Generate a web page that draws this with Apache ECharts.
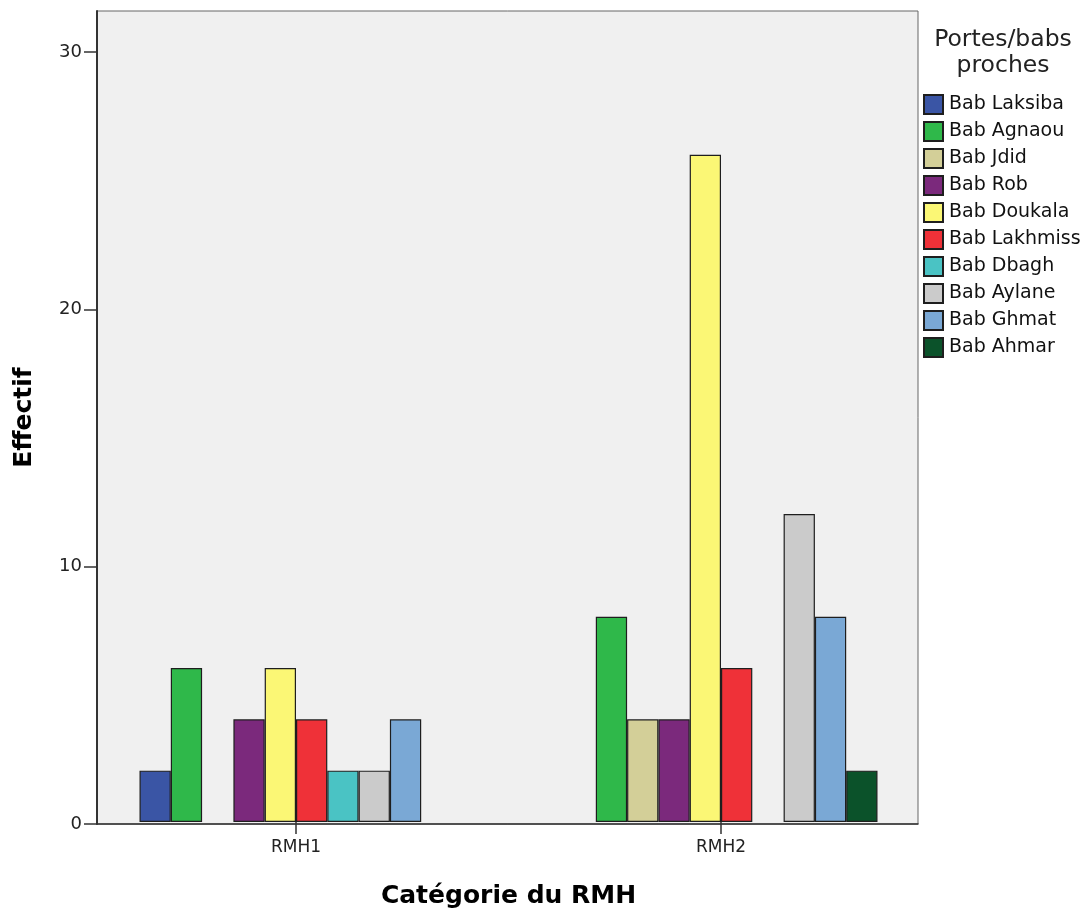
<!DOCTYPE html>
<html>
<head>
<meta charset="utf-8">
<script src="https://cdn.jsdelivr.net/npm/echarts@6/dist/echarts.min.js"></script>
<style>html,body{margin:0;padding:0;background:#fff}#c{width:1085px;height:914px}</style>
</head>
<body>
<div id="c"></div>
<script>
const categories = ['RMH1', 'RMH2'];
const seriesNames = ['Bab Laksiba','Bab Agnaou','Bab Jdid','Bab Rob','Bab Doukala','Bab Lakhmiss','Bab Dbagh','Bab Aylane','Bab Ghmat','Bab Ahmar'];
const laksiba = [2, 0];
const agnaou = [6, 8];
const jdid = [0, 4];
const rob = [4, 4];
const doukala = [6, 26];
const lakhmiss = [4, 6];
const dbagh = [2, 0];
const aylane = [2, 12];
const ghmat = [4, 8];
const ahmar = [0, 2];
const yTicks = [0, 10, 20, 30];
const colors = ['#3a55a5','#2fb84a','#d3cf98','#7b297c','#fbf775','#ef3138','#4ac3c4','#cbcbcb','#7aa8d5','#0b522a'];

const values = [laksiba, agnaou, jdid, rob, doukala, lakhmiss, dbagh, aylane, ghmat, ahmar];
const chart = echarts.init(document.getElementById('c'), null, {renderer: 'canvas'});
const FONT = 'DejaVu Sans, sans-serif';
const series = seriesNames.map((n, i) => ({
  name: n, type: 'bar', xAxisIndex: 1, yAxisIndex: 1,
  barWidth: 31.3, barGap: '0%',
  data: values[i].map(v => v === 0 ? '-' : v),
  itemStyle: {color: colors[i], borderColor: '#1e1e1e', borderWidth: 1.2},
  emphasis: {disabled: true}
}));
chart.setOption({
  animation: false,
  textStyle: {fontFamily: FONT},
  grid: [
    {left: 97, top: 11, width: 821, height: 813, show: true, backgroundColor: '#f0f0f0', borderColor: '#666', borderWidth: 1},
    {left: 83.5, top: 11, width: 850, height: 813}
  ],
  xAxis: [
    {gridIndex: 0, type: 'value', min: 0, max: 1, axisLine: {show: true, lineStyle: {color: '#333', width: 1.5}}, axisTick: {show: false}, axisLabel: {show: false}, splitLine: {show: false}},
    {gridIndex: 1, type: 'category', data: categories, axisLine: {show: false}, axisTick: {show: true, alignWithLabel: true, length: 12, lineStyle: {color: '#333', width: 1.5}},
     axisLabel: {show: true, color: '#222', fontSize: 17, margin: 17, fontFamily: FONT},
     name: 'Catégorie du RMH', nameLocation: 'middle', nameGap: 62, nameTextStyle: {fontSize: 25, fontWeight: 'bold', color: '#000', fontFamily: FONT}}
  ],
  yAxis: [
    {gridIndex: 0, type: 'value', min: 0, max: 31.6, interval: 10, axisLine: {show: true, lineStyle: {color: '#333', width: 2}},
     axisTick: {show: true, length: 13, lineStyle: {color: '#333', width: 1.5}},
     axisLabel: {color: '#222', fontSize: 18, margin: 15, showMaxLabel: false, fontFamily: FONT, padding: [5, 0, 0, 0], formatter: v => yTicks.includes(v) ? String(v) : ''},
     splitLine: {show: false},
     name: 'Effectif', nameLocation: 'middle', nameGap: 60, nameRotate: 90, nameTextStyle: {fontSize: 25, fontWeight: 'bold', color: '#000', fontFamily: FONT}},
    {gridIndex: 1, type: 'value', min: 0, max: 31.6, show: false, splitLine: {show: false}}
  ],
  legend: {
    orient: 'vertical', left: 923, top: 94, padding: 0, itemWidth: 19, itemHeight: 19, itemGap: 6,
    icon: 'rect', selectedMode: false,
    textStyle: {fontSize: 19, color: '#111', fontFamily: FONT, padding: [0, 0, 0, 1]},
    data: seriesNames
  },
  title: {
    text: 'Portes/babs\nproches', left: 1003, top: 27, padding: 0, textAlign: 'center',
    textStyle: {fontSize: 23.5, fontWeight: 'normal', color: '#222', lineHeight: 26, fontFamily: FONT}
  },
  series: series
});
</script>
</body>
</html>
